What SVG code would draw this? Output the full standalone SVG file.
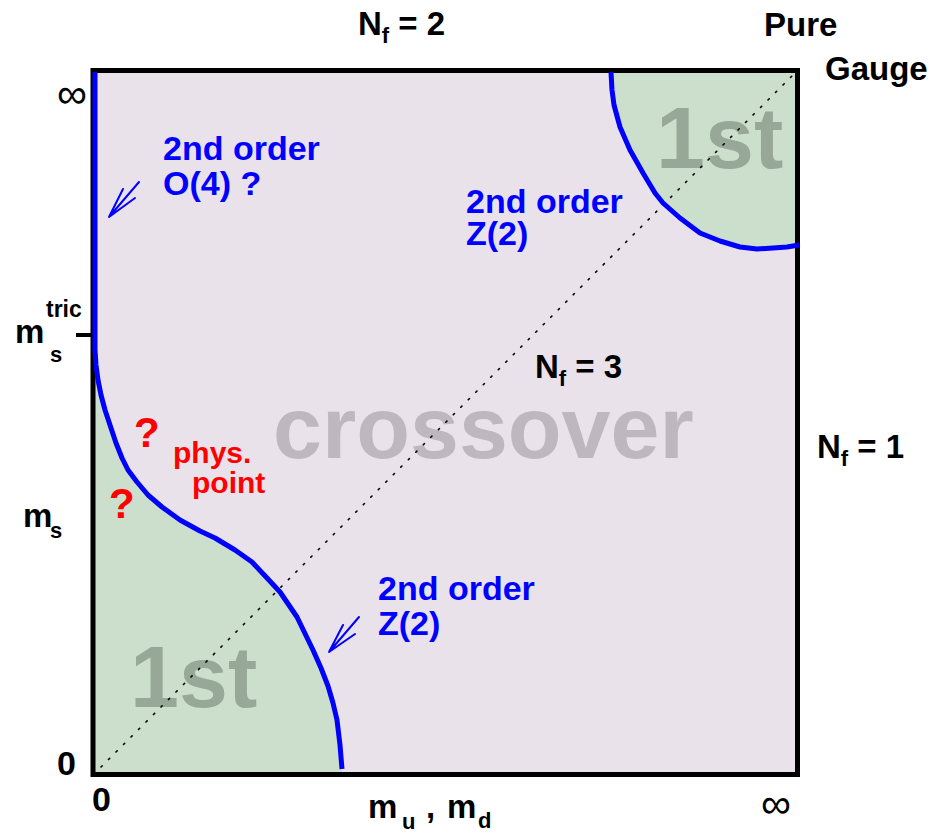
<svg xmlns="http://www.w3.org/2000/svg" width="938" height="833" viewBox="0 0 938 833">
<style>
text{font-family:"Liberation Sans",Arial,sans-serif;font-weight:bold}
.k{fill:#000;font-size:33px}
.sub{font-size:22px}
.b{fill:#0000FF;font-size:34px}
.r{fill:#FF0000;font-size:30px}
.q{fill:#FF0000;font-size:42px}
.inf{font-weight:normal;font-size:42px;fill:#000}
.big1{fill:#98A898;font-size:88px}
.cross{fill:#BFB7C0;font-size:88px}
.curve{fill:none;stroke:#0000FF;stroke-width:5;stroke-linejoin:round;stroke-linecap:butt}
.arr{fill:none;stroke:#0000FF;stroke-width:2;stroke-linecap:round}
.green{fill:#CCDECC}
</style>
<rect x="0" y="0" width="938" height="833" fill="#FFFFFF"/>
<g id="plot-area">
<rect x="93" y="70.5" width="704.5" height="704" fill="#E9E2EB"/>
<polygon class="green" points="95,350 96,365 98,380 101,395 105,410 110,425 116,443 122,458 128,470 137,482 148,495 162,507 180,520 200,531 215,538 235,550 252,562 267,578 280,592 297,617 313,650 321,668 328,686 333,703 337,720 340,745 342,774 93,774"/>
<polygon class="green" points="611,70 612,90 614,105 620,127 630,150 643,173 655,193 663,203 680,218 700,233 720,241 740,247 757,249 773,248 787,247 797,245 797,70"/>
</g>
<g id="region-labels">
<text class="big1" x="656" y="168">1st</text>
<text class="big1" x="130" y="707">1st</text>
<text class="cross" x="273" y="458">crossover</text>
</g>
<g id="diagonal">
<line x1="101" y1="767" x2="792" y2="76" stroke="#000" stroke-width="1.6" stroke-dasharray="1.6 9" stroke-linecap="round"/>
</g>
<g id="frame">
<rect x="93" y="70.5" width="704.5" height="704" fill="none" stroke="#000" stroke-width="5"/>
<line x1="76" y1="335" x2="92" y2="335" stroke="#000" stroke-width="4"/>
</g>
<g id="connectors">
<polyline class="curve" points="95,72 95,350 96,365 98,380 101,395 105,410 110,425 116,443 122,458 128,470 137,482 148,495 162,507 180,520 200,531 215,538 235,550 252,562 267,578 280,592 297,617 313,650 321,668 328,686 333,703 337,720 340,745 342,769"/>
<polyline class="curve" points="611,72 612,90 614,105 620,127 630,150 643,173 655,193 663,203 680,218 700,233 720,241 740,247 757,249 773,248 787,247 799,245"/>
<path class="arr" d="M139,182 L109,217 L123,189 M109,217 L135,198"/>
<path class="arr" d="M359,617 L329,652 L343,625 M329,652 L355,634"/>
</g>
<g id="blue-labels">
<text class="b" x="163" y="160">2nd order</text>
<text class="b" x="163" y="195">O(4) ?</text>
<text class="b" x="466" y="213">2nd order</text>
<text class="b" x="466" y="245">Z(2)</text>
<text class="b" x="378" y="600">2nd order</text>
<text class="b" x="378" y="635">Z(2)</text>
</g>
<g id="red-labels">
<text class="r" x="173" y="463">phys.</text>
<text class="r" x="192" y="493">point</text>
<text class="q" x="134" y="447">?</text>
<text class="q" x="109" y="518">?</text>
</g>
<g id="axis-labels">
<text class="k" x="358" y="35">N<tspan class="sub" dy="8">f</tspan><tspan dy="-8"> = 2</tspan></text>
<text class="k" x="535" y="378">N<tspan class="sub" dy="8">f</tspan><tspan dy="-8"> = 3</tspan></text>
<text class="k" x="817" y="458">N<tspan class="sub" dy="8">f</tspan><tspan dy="-8"> = 1</tspan></text>
<text class="k" x="764" y="36">Pure</text>
<text class="k" x="825" y="80">Gauge</text>
<text class="inf" x="57" y="108">∞</text>
<text class="inf" x="761" y="818">∞</text>
<text class="k" x="57" y="775" style="font-size:34px">0</text>
<text class="k" x="92" y="811" style="font-size:34px">0</text>
<text class="k" x="15" y="343">m</text>
<text class="k" x="46" y="317" style="font-size:23px">tric</text>
<text class="k sub" x="50" y="362">s</text>
<text class="k" x="23" y="527">m</text>
<text class="k sub" x="50" y="538">s</text>
<text class="k" x="368" y="818">m</text>
<text class="k sub" x="402" y="829">u</text>
<text class="k" x="426" y="818">,</text>
<text class="k" x="447" y="818">m</text>
<text class="k sub" x="478" y="828">d</text>
</g>
</svg>
